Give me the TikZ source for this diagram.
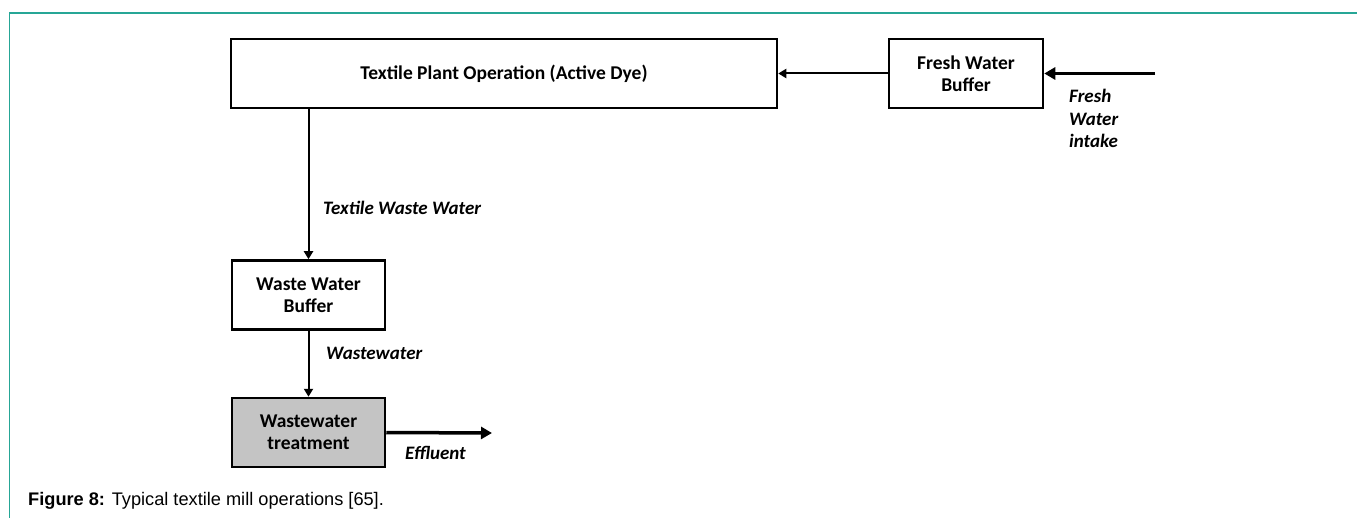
\documentclass[tikz,border=0pt]{standalone}
\usepackage{fontspec}
\setmainfont{Carlito}
\newfontfamily\capfont{Liberation Sans}
\usetikzlibrary{arrows.meta}
\definecolor{framecol}{RGB}{38,166,150}
\definecolor{treatgray}{RGB}{196,196,196}
\tikzstyle{unit}=[draw, line width=2.5pt, minimum height=69pt, align=center, inner sep=0pt,
  font=\bfseries\fontsize{19.5}{22}\selectfont]
\tikzstyle{flow}=[inner sep=0pt, align=left, font=\bfseries\itshape\fontsize{19}{22.5}\selectfont]
\tikzset{pipe/.style={line width=2pt, -{Triangle[length=8pt,width=9pt]}}}
\tikzset{mainpipe/.style={line width=3.5pt, -{Triangle[length=11pt,width=12pt]}}}

\begin{document}
\begin{tikzpicture}[x=1pt, y=-1pt]
    \useasboundingbox (0,0) rectangle (1357,518);
    \draw[framecol, line width=1.5pt] (1357,13) -- (9.5,13) -- (9.5,518);
    \node[unit, minimum width=546pt] (plant) at (504,73.5) {Textile Plant Operation (Active Dye)};
    \node[unit, minimum width=154pt] (freshbuf) at (966,73.5) {Fresh Water\\Buffer};
    \node[unit, minimum width=153pt] (wastebuf) at (308.5,295) {Waste Water\\Buffer};
    \node[unit, minimum width=153pt, fill=treatgray] (treat) at (308.5,432.5) {Wastewater\\treatment};
    \coordinate (intake) at (1155,73.5);
    \coordinate (outlet) at (492,433);
    \draw[mainpipe] (intake) to (freshbuf);
    \draw[pipe] (freshbuf) to (plant);
    \draw[pipe] (wastebuf.north |- plant.south) to (wastebuf.north);
    \draw[pipe] (wastebuf) to (treat);
    \draw[mainpipe] (treat.east) to (outlet);
    \node[flow, anchor=north west] (intakelbl) at (1069,89) {Fresh\\Water\\intake};
    \node[flow, anchor=west] (wwlbl) at (323,208) {Textile Waste Water};
    \node[flow, anchor=west] (wlbl) at (326,353) {Wastewater};
    \node[flow, anchor=west] (efflbl) at (405,453) {Effluent};
    \node[anchor=west, inner sep=0pt, font=\capfont\fontsize{18.2}{21}\selectfont] (caption) at (28,501)
      {\textbf{Figure 8:} Typical textile mill operations [65].};
  \end{tikzpicture}
\end{document}
